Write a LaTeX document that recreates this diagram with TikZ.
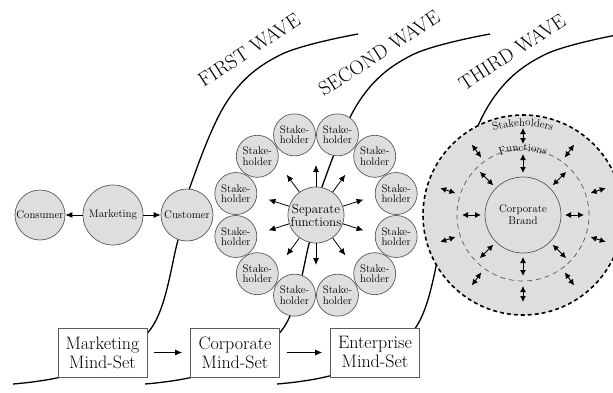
\documentclass[tikz,border=0pt]{standalone}
\usepackage{fontspec}
\usetikzlibrary{arrows.meta,decorations.text}

\definecolor{discgray}{RGB}{222,222,222}
\definecolor{edgegray}{RGB}{90,90,90}

\tikzset{
	disc/.style={circle, draw=edgegray, fill=discgray, line width=0.7pt, inner sep=0pt, align=center},
	holder/.style={disc, minimum size=42pt, font=\fontsize{11}{10.5}\selectfont},
	mindset/.style={draw=edgegray, fill=white, line width=0.7pt, align=center, inner sep=2pt,
		minimum width=89pt, minimum height=49pt, font=\fontsize{18}{19}\selectfont},
	wave/.style={line width=1.3pt},
	wavetext/.style={font=\fontsize{20}{20}\selectfont, rotate=33},
	tip/.style={-{Latex[length=7pt,width=6pt]}, line width=0.8pt},
	twotip/.style={{Latex[length=6pt,width=6pt]}-{Latex[length=6pt,width=6pt]}, line width=0.9pt},
}

\begin{document}
\begin{tikzpicture}[x=1pt,y=1pt]
	\useasboundingbox (0,0) rectangle (613,392);
	% the three waves
	\foreach \s in {0,132,264}
		\draw[wave, xshift=\s] plot[smooth, tension=0.6] coordinates
			{(13,8) (78,20) (150,62) (178,152) (190,205) (228,292) (280,337) (358,358)};
	\node[wavetext] (firstlbl) at (249,342) {FIRST WAVE};
	\node[wavetext] (secondlbl) at (379,339) {SECOND WAVE};
	\node[wavetext] (thirdlbl) at (512,340) {THIRD WAVE};

	% first wave
	\node[disc, minimum size=50pt, font=\fontsize{11}{11}\selectfont] (consumer) at (40,177) {Consumer};
	\node[disc, minimum size=60pt, font=\fontsize{11}{11}\selectfont] (marketing) at (113,177) {Marketing};
	\node[disc, minimum size=52pt, font=\fontsize{11}{11}\selectfont] (customer) at (187,177) {Customer};
	\draw[tip] (marketing) -- (consumer);
	\draw[tip] (marketing) -- (customer);

	% second wave
	\node[disc, minimum size=56pt, font=\fontsize{13}{13}\selectfont] (functions) at (316,177) {Separate\\functions};
	\foreach \a in {0,...,11}
		\node[holder] (holder\a) at ([shift={(15+30*\a:83)}]functions.center) {Stake-\\holder};
	\foreach \a in {18,54,...,342}
		\draw[tip] (functions.\a) -- ([shift={(\a:50)}]functions.center);

	% third wave
	\node[disc, minimum size=200pt, draw=black, line width=1.6pt, dash pattern=on 4pt off 3pt] (stakering) at (523,177) {};
	\node[circle, minimum size=132pt, draw=edgegray, line width=0.7pt, dash pattern=on 5pt off 4pt] (funcring) at (523,177) {};
	\node[disc, minimum size=76pt, font=\fontsize{11}{12}\selectfont] (brand) at (523,177) {Corporate\\Brand};
	\foreach \a in {0,45,...,315}
		\draw[twotip] ([shift={(\a:42)}]brand.center) -- ([shift={(\a:61)}]brand.center);
	\foreach \a in {18,54,...,342}
		\draw[twotip] ([shift={(\a:71)}]brand.center) -- ([shift={(\a:87)}]brand.center);
	\path[decorate, decoration={text along path, text align=center,
		text={|\fontsize{11}{11}\selectfont|Stakeholders}}]
		([shift={(120:89)}]brand.center) arc[start angle=120, end angle=60, radius=89];
	\path[decorate, decoration={text along path, text align=center,
		text={|\fontsize{11}{11}\selectfont|Functions}}]
		([shift={(120:64)}]brand.center) arc[start angle=120, end angle=60, radius=64];

	% mind-sets
	\node[mindset] (mktset) at (102.5,39.5) {Marketing\\Mind-Set};
	\node[mindset] (corpset) at (235,39.5) {Corporate\\Mind-Set};
	\node[mindset] (entset) at (375,39.5) {Enterprise\\Mind-Set};
	\draw[tip, shorten <=7pt, shorten >=8pt] (mktset) -- (corpset);
	\draw[tip, shorten <=7pt, shorten >=8pt] (corpset) -- (entset);
\end{tikzpicture}
\end{document}
